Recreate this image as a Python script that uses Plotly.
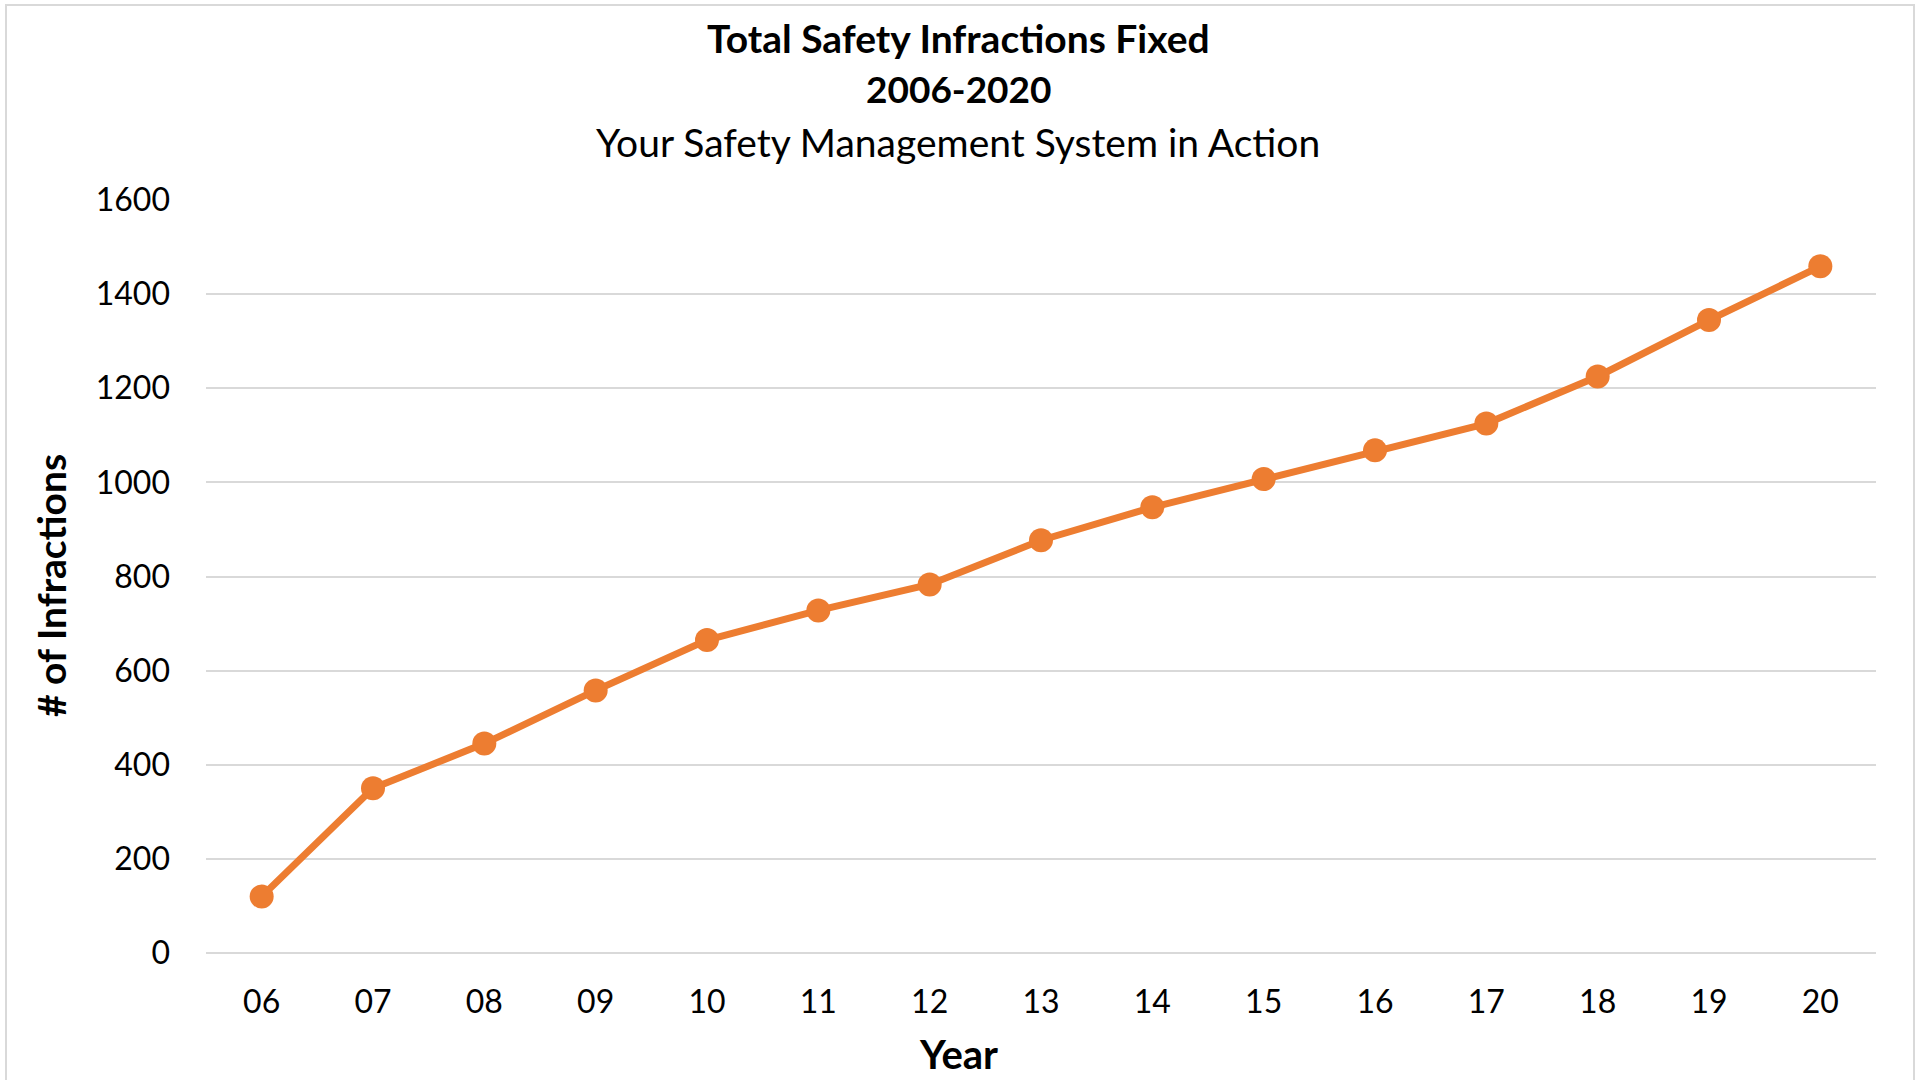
import plotly.graph_objects as go

years = ["06", "07", "08", "09", "10", "11", "12", "13", "14", "15", "16", "17", "18", "19", "20"]
infractions = [120, 350, 445, 558, 665, 728, 783, 877, 947, 1007, 1068, 1125, 1225, 1345, 1459]
y_ticks = [0, 200, 400, 600, 800, 1000, 1200, 1400, 1600]

title_line1 = "Total Safety Infractions Fixed"
title_line2 = "2006-2020"
title_line3 = "Your Safety Management System in Action"
x_title = "Year"
y_title = "# of Infractions"

FONT = "Lato"
ORANGE = "#ED7D31"
GRID = "#D9D9D9"

W, H = 1921, 1080
L, R, T, B = 206, 45, 200, 127
plot_w = W - L - R
plot_h = H - T - B

def py(ypx):
    return (H - B - ypx) / plot_h

def px(xpx):
    return (xpx - L) / plot_w

fig = go.Figure()
fig.add_trace(go.Scatter(
    x=years, y=infractions, mode="lines+markers",
    line=dict(color=ORANGE, width=7),
    marker=dict(color=ORANGE, size=24),
    showlegend=False,
))

fig.update_layout(
    width=W, height=H,
    margin=dict(l=L, r=R, t=T, b=B, autoexpand=False),
    paper_bgcolor="white", plot_bgcolor="white",
    font=dict(family=FONT, color="#000000"),
    xaxis=dict(
        type="category", range=[-0.5, 14.5],
        showgrid=False, zeroline=False,
        showline=False,
        tickfont=dict(size=32, color="#000000"),
        ticklabelstandoff=27,
    ),
    yaxis=dict(
        range=[0, 1600], tickvals=y_ticks,
        showgrid=True, gridcolor=GRID, gridwidth=2,
        zeroline=True, zerolinecolor=GRID, zerolinewidth=2,
        tickfont=dict(size=32, color="#000000"),
        ticklabelstandoff=35,
    ),
)

cx = px(958)
fig.add_annotation(text="<b>" + title_line1 + "</b>", xref="paper", yref="paper",
                   x=cx, y=py(38), showarrow=False,
                   xanchor="center", yanchor="middle", font=dict(size=39, family=FONT))
fig.add_annotation(text="<b>" + title_line2 + "</b>", xref="paper", yref="paper",
                   x=cx, y=py(89), showarrow=False,
                   xanchor="center", yanchor="middle", font=dict(size=37, family=FONT))
fig.add_annotation(text=title_line3, xref="paper", yref="paper",
                   x=cx, y=py(142), showarrow=False,
                   xanchor="center", yanchor="middle", font=dict(size=39, family=FONT))

# axis titles
fig.add_annotation(text="<b>" + x_title + "</b>", xref="paper", yref="paper",
                   x=cx, y=py(1054), showarrow=False,
                   xanchor="center", yanchor="middle", font=dict(size=40, family=FONT))
fig.add_annotation(text="<b>" + y_title + "</b>", xref="paper", yref="paper",
                   x=px(51), y=py(586), showarrow=False, textangle=-90,
                   xanchor="center", yanchor="middle", font=dict(size=39, family=FONT))

# chart border
fig.add_shape(type="rect", xref="paper", yref="paper",
              x0=px(6), x1=px(1914),
              y0=py(1090), y1=py(5),
              line=dict(color=GRID, width=2), fillcolor="rgba(0,0,0,0)", layer="below")

fig.write_html("out.html", config={"displayModeBar": False},
               post_script="document.body.style.margin='0';document.body.style.overflow='hidden';")
